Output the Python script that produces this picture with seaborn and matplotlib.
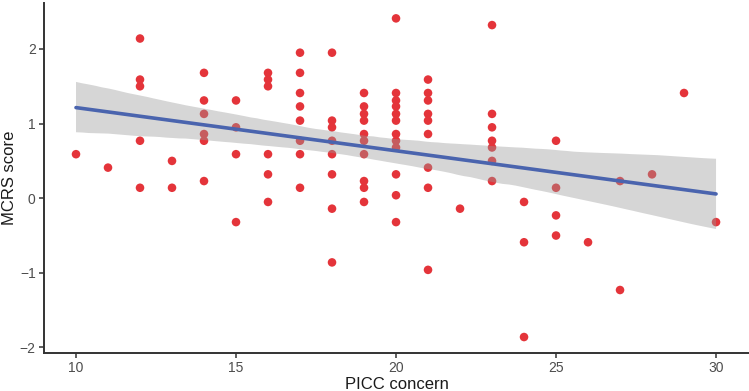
import numpy as np
import pandas as pd
import matplotlib
matplotlib.use('Agg')
import matplotlib.pyplot as plt
import seaborn as sns

# ── Données ──────────────────────────────────────────────────────
picc_10 = [0.59]
picc_11 = [0.41]
picc_12 = [2.14, 1.59, 1.50, 0.77, 0.14]
picc_13 = [0.50, 0.14]
picc_14 = [1.68, 1.31, 1.13, 0.86, 0.77, 0.23]
picc_15 = [1.31, 0.95, 0.59, -0.32]
picc_16 = [1.68, 1.59, 1.50, 0.59, 0.32, -0.05]
picc_17 = [1.95, 1.68, 1.41, 1.23, 1.04, 0.77, 0.59, 0.14]
picc_18 = [1.95, 1.04, 0.95, 0.77, 0.59, 0.32, -0.14, -0.86]
picc_19 = [1.41, 1.23, 1.13, 1.04, 0.86, 0.77, 0.59, 0.23, 0.14, -0.05]
picc_20 = [2.41, 1.41, 1.31, 1.23, 1.13, 1.04, 0.86, 0.77, 0.68, 0.32, 0.04, -0.32]
picc_21 = [1.59, 1.41, 1.31, 1.13, 1.04, 0.86, 0.41, 0.14, -0.96]
picc_22 = [-0.14]
picc_23 = [2.32, 1.13, 0.95, 0.77, 0.68, 0.50, 0.23]
picc_24 = [-0.05, -0.59, -1.86]
picc_25 = [0.77, 0.14, -0.23, -0.50]
picc_26 = [-0.59]
picc_27 = [0.23, -1.23]
picc_28 = [0.32]
picc_29 = [1.41]
picc_30 = [-0.32]

groups = {10: picc_10, 11: picc_11, 12: picc_12, 13: picc_13, 14: picc_14,
          15: picc_15, 16: picc_16, 17: picc_17, 18: picc_18, 19: picc_19,
          20: picc_20, 21: picc_21, 22: picc_22, 23: picc_23, 24: picc_24,
          25: picc_25, 26: picc_26, 27: picc_27, 28: picc_28, 29: picc_29,
          30: picc_30}

df = pd.DataFrame([(k, v) for k, vals in groups.items() for v in vals],
                  columns=['picc', 'mcrs'])

sns.set_style('ticks')
plt.rcParams['font.family'] = ['Liberation Sans', 'DejaVu Sans']

fig = plt.figure(figsize=(7.49, 3.91), dpi=100)
ax = fig.add_axes([44 / 749, (391 - 352.7) / 391, 1 - 44 / 749, 350 / 391])

# points d'abord, puis la bande de confiance par-dessus (comme ggplot)
sns.scatterplot(data=df, x='picc', y='mcrs', ax=ax, color='#E4343A',
                s=38, edgecolor='none', linewidth=0, zorder=1)
sns.regplot(data=df, x='picc', y='mcrs', ax=ax, scatter=False, ci=95,
            color='#4A64AE', line_kws={'lw': 2.6, 'zorder': 3},
            truncate=True)
for coll in ax.collections[1:]:
    coll.set_facecolor('#999999')
    coll.set_alpha(0.4)
    coll.set_edgecolor('none')
    coll.set_zorder(2)

ax.set_xlim(9, 31.03)
ax.set_ylim(-2.07, 2.62)
ax.set_xticks([10, 15, 20, 25, 30])
ax.set_yticks([-2, -1, 0, 1, 2])
ax.set_yticklabels(['\u22122', '\u22121', '0', '1', '2'])

ax.set_xlabel('PICC concern', fontsize=12, color='#1a1a1a', labelpad=1.5)
ax.set_ylabel('MCRS score', fontsize=12, color='#1a1a1a', labelpad=2)

for side in ['top', 'right']:
    ax.spines[side].set_visible(False)
for side in ['left', 'bottom']:
    ax.spines[side].set_color('#333333')
    ax.spines[side].set_linewidth(1.4)
ax.tick_params(axis='both', direction='out', length=3.5, width=1.1,
               color='#333333', labelcolor='#4D4D4D', labelsize=10, pad=2.5)

plt.savefig('out.png', dpi=100)
plt.close()
